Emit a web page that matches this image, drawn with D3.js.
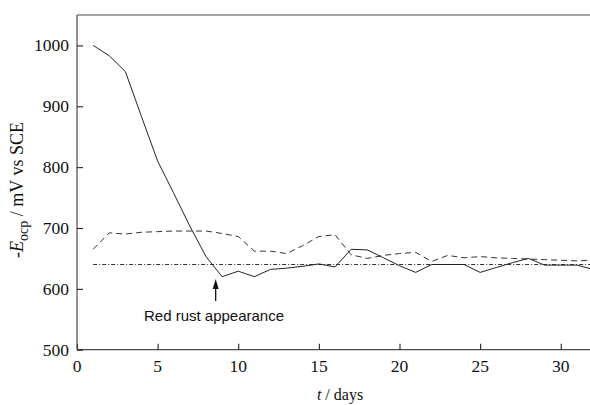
<!DOCTYPE html>
<html>
<head>
<meta charset="utf-8">
<script src="https://cdn.jsdelivr.net/npm/d3@7"></script>
<style>
  html, body { margin: 0; padding: 0; background: #fff; }
  svg { display: block; }
</style>
</head>
<body>
<svg id="chart" width="590" height="405"></svg>
<script>
// Measurement days
const days = [1,2,3,4,5,6,7,8,9,10,11,12,13,14,15,16,17,18,19,20,21,22,23,24,25,26,27,28,29,30,31,32];

// Open-circuit potential, -E_ocp in mV vs SCE
const solidSeries = [1000,983,957,883,810,757,703,653,620,629,620,632,634,637,641,636,665,664,651,638,627,640,640,640,627,635,643,650,639,639,639,632];
const dashedSeries = [665,692,690,693,694,695,695,695,691,686,662,662,658,671,686,689,656,650,655,658,660,645,655,651,653,651,650,649,648,647,646,647];

// Reference potential level
const refLevel = 640;
const refStartDay = 1;

// Axis ticks
const xTicks = [0,5,10,15,20,25,30];
const yTicks = [500,600,700,800,900,1000];

// Annotation
const annotationText = "Red rust appearance";
const annotationDay = 8.6;

const svg = d3.select("#chart");

const x = d3.scaleLinear().domain([0, 32]).range([77, 593]);
const y = d3.scaleLinear().domain([500, 1050]).range([349.7, 15]);

const axisColor = "#4a4a4a";
const serif = "'Liberation Serif', 'Times New Roman', serif";

// Frame: top line
svg.append("line")
  .attr("x1", x(0)).attr("x2", 590)
  .attr("y1", y(1050)).attr("y2", y(1050))
  .attr("stroke", axisColor).attr("stroke-width", 1.2);

// X axis (lines and inward ticks; labels drawn below)
const xAxis = d3.axisBottom(x).tickValues(xTicks).tickFormat("")
  .tickSizeInner(-6).tickSizeOuter(0);
const gx = svg.append("g").attr("transform", `translate(0,${y(500)})`).call(xAxis);
gx.select(".domain").attr("stroke", axisColor).attr("stroke-width", 1.2).attr("d", `M${x(0)},0H590`);
gx.selectAll(".tick line").attr("stroke", "#222").attr("stroke-width", 1.1);

// Y axis
const yAxis = d3.axisLeft(y).tickValues(yTicks).tickFormat("")
  .tickSizeInner(-6).tickSizeOuter(0);
const gy = svg.append("g").attr("transform", `translate(${x(0)},0)`).call(yAxis);
gy.select(".domain").attr("stroke", axisColor).attr("stroke-width", 1.2)
  .attr("d", `M0,${y(500)}V${y(1050)}`);
gy.selectAll(".tick line").attr("stroke", "#222").attr("stroke-width", 1.1);

// Tick labels
svg.append("g").selectAll("text").data(xTicks).join("text")
  .attr("x", d => x(d)).attr("y", 372)
  .attr("text-anchor", "middle")
  .style("font-family", serif).style("font-size", "17.5px").style("fill", "#111")
  .text(d => d);

svg.append("g").selectAll("text").data(yTicks).join("text")
  .attr("x", 69).attr("y", d => y(d)).attr("dy", "0.34em")
  .attr("text-anchor", "end")
  .style("font-family", serif).style("font-size", "17.5px").style("fill", "#111")
  .text(d => d);

// Reference level line
svg.append("line")
  .attr("x1", x(refStartDay)).attr("x2", 590)
  .attr("y1", y(refLevel)).attr("y2", y(refLevel))
  .attr("stroke", "#333").attr("stroke-width", 1)
  .attr("stroke-dasharray", "4,2,1,2");

const line = d3.line().x((d, i) => x(days[i])).y(d => y(d));

// Dashed series
svg.append("path")
  .datum(dashedSeries)
  .attr("d", line)
  .attr("fill", "none")
  .attr("stroke", "#333")
  .attr("stroke-width", 1)
  .attr("stroke-dasharray", "6,4");

// Solid series
svg.append("path")
  .datum(solidSeries)
  .attr("d", line)
  .attr("fill", "none")
  .attr("stroke", "#222")
  .attr("stroke-width", 1);

// Arrow marking red rust appearance
const ax = x(annotationDay);
svg.append("line")
  .attr("x1", ax).attr("x2", ax)
  .attr("y1", 301).attr("y2", 287)
  .attr("stroke", "#111").attr("stroke-width", 1.3);
svg.append("path")
  .attr("d", `M${ax},279L${ax - 3},289L${ax + 3},289Z`)
  .attr("fill", "#111");

svg.append("text")
  .attr("x", 214).attr("y", 321)
  .attr("text-anchor", "middle")
  .style("font-family", "'Liberation Sans', Arial, sans-serif")
  .style("font-size", "15px")
  .style("fill", "#111")
  .text(annotationText);

// Axis titles
const xt = svg.append("text")
  .attr("x", 340).attr("y", 400)
  .attr("text-anchor", "middle")
  .style("font-family", serif)
  .style("font-size", "16px")
  .style("fill", "#111");
xt.append("tspan").style("font-style", "italic").text("t");
xt.append("tspan").text(" / days");

const yt = svg.append("text")
  .attr("transform", "translate(23,190) rotate(-90)")
  .attr("text-anchor", "middle")
  .style("font-family", serif)
  .style("font-size", "18px")
  .style("fill", "#111");
yt.append("tspan").text("-");
yt.append("tspan").style("font-style", "italic").text("E");
yt.append("tspan").style("font-size", "14px").attr("dy", 5).text("ocp");
yt.append("tspan").attr("dy", -5).text(" / mV vs SCE");
</script>
</body>
</html>
